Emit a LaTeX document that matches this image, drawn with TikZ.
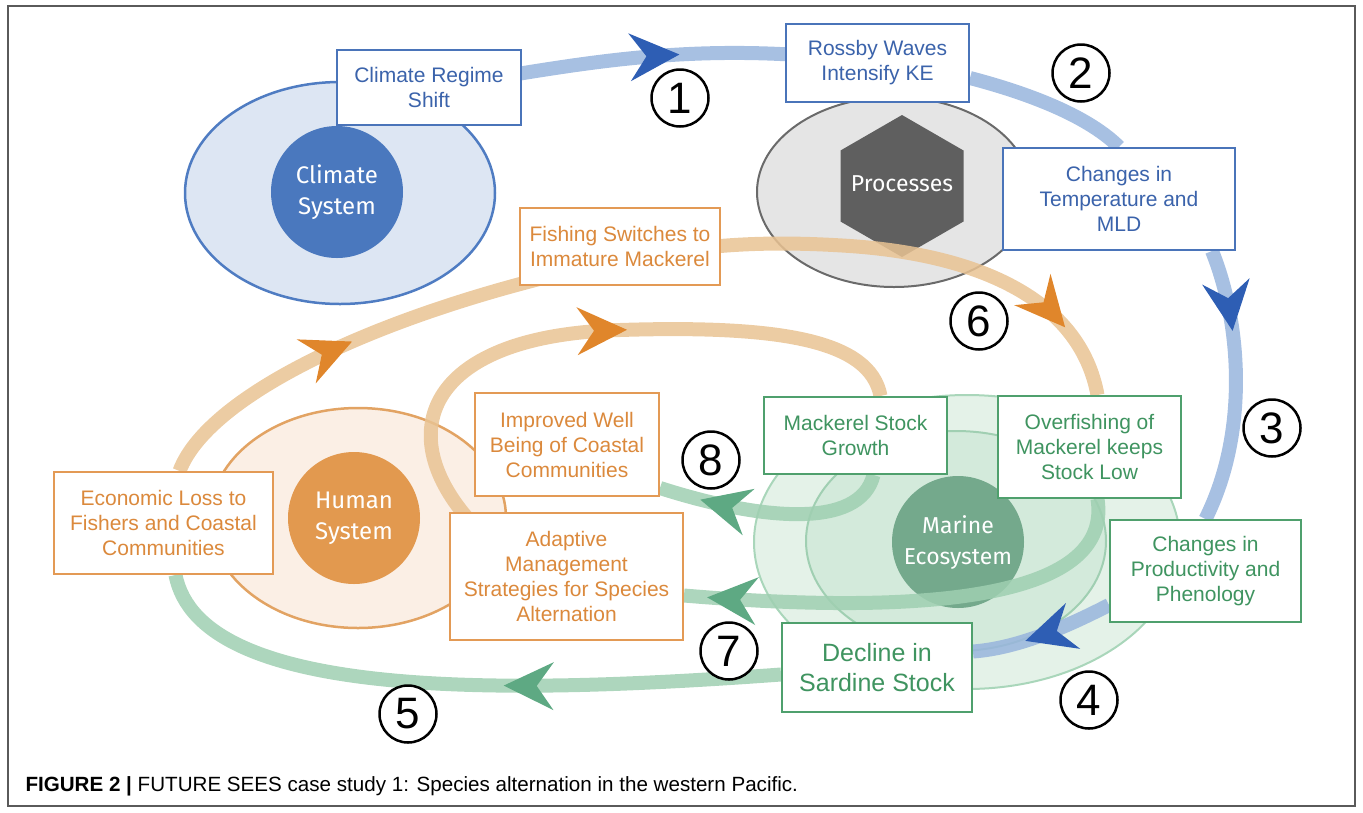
\documentclass[tikz,border=0pt]{standalone}
\usepackage{fontspec}
\setmainfont{Liberation Sans}
\newfontfamily\sysfont{Fira Sans}
\usetikzlibrary{calc}
\usetikzlibrary{decorations.markings}

\definecolor{tblue}{HTML}{3B63AB}
\definecolor{bblue}{HTML}{4A74B9}
\definecolor{lblue}{HTML}{98B5DD}
\definecolor{ablue}{HTML}{2E5EB4}
\definecolor{torange}{HTML}{DB893C}
\definecolor{borange}{HTML}{E39A55}
\definecolor{lorange}{HTML}{E9C393}
\definecolor{aorange}{HTML}{E0862B}
\definecolor{tgreen}{HTML}{3F9460}
\definecolor{bgreen}{HTML}{4FA06D}
\definecolor{lgreen}{HTML}{9FCFB1}
\definecolor{agreen}{HTML}{5EA983}
\definecolor{framegray}{HTML}{5A5A5A}
\definecolor{hexgray}{HTML}{5F5F5F}

\pgfdeclarelayer{back}
\pgfdeclarelayer{mid}
\pgfsetlayers{back,mid,main}

\tikzset{
	box/.style={draw,fill=white,line width=2pt,inner sep=0pt,align=center,
		font=\fontsize{21}{25}\selectfont},
	bluebox/.style={box,draw=bblue,text=tblue},
	orangebox/.style={box,draw=borange,text=torange},
	greenbox/.style={box,draw=bgreen,text=tgreen},
	band/.style={line width=14pt,draw opacity=0.85},
	tipat/.style 2 args={postaction={decorate,decoration={markings,
		mark=at position #1 with {\fill[#2] (0,0)--(-50,-24)--(-33,0)--(-50,24)--cycle;}}}},
	num/.style={circle,draw=black,fill=white,line width=2.5pt,minimum size=57pt,
		inner sep=0pt,font=\fontsize{44}{44}\selectfont},
	sysdisc/.style={circle,inner sep=0pt,minimum size=132pt,text=white,align=center,
		font=\sysfont\fontsize{24}{31}\selectfont},
}

\begin{document}
\begin{tikzpicture}[x=1pt,y=-1pt]
	\useasboundingbox (0,0) rectangle (1363,812);
	\draw[framegray,line width=1.5pt] (8,6) rectangle (1355,806);

	% boxes
	\node[bluebox,minimum width=184pt,minimum height=75pt] (climshift) at (429,87.5) {Climate Regime\\Shift};
	\node[bluebox,minimum width=183pt,minimum height=78pt] (rossby) at (877.5,63) {Rossby Waves\\Intensify KE};
	\node[bluebox,minimum width=232pt,minimum height=102pt] (tempmld) at (1119,199) {Changes in\\Temperature and\\MLD};
	\node[orangebox,minimum width=200pt,minimum height=77pt] (fishing) at (620,246.5) {Fishing Switches to\\Immature Mackerel};
	\node[orangebox,minimum width=219pt,minimum height=102pt] (econ) at (163.5,523) {Economic Loss to\\Fishers and Coastal\\Communities};
	\node[orangebox,minimum width=184pt,minimum height=103pt] (improved) at (567,444.5) {Improved Well\\Being of Coastal\\Communities};
	\node[orangebox,minimum width=233pt,minimum height=127pt] (adapt) at (566.5,576.5) {Adaptive\\Management\\Strategies for Species\\Alternation};
	\node[greenbox,minimum width=183pt,minimum height=77pt] (mack) at (855.5,435.5) {Mackerel Stock\\Growth};
	\node[greenbox,minimum width=183pt,minimum height=102pt] (overfish) at (1089.5,447) {Overfishing of\\Mackerel keeps\\Stock Low};
	\node[greenbox,minimum width=191pt,minimum height=102pt] (prodphen) at (1205.5,571) {Changes in\\Productivity and\\Phenology};
	\node[greenbox,minimum width=190pt,minimum height=89pt,font=\fontsize{25}{30}\selectfont] (sardine) at (877,667.5) {Decline in\\Sardine Stock};

	% step numbers
	\node[num] (n1) at (680,98) {1};
	\node[num] (n2) at (1081,73) {2};
	\node[num] (n3) at (1272,428) {3};
	\node[num] (n4) at (1089,700) {4};
	\node[num] (n5) at (408,714) {5};
	\node[num] (n6) at (979,321) {6};
	\node[num] (n7) at (729,651) {7};
	\node[num] (n8) at (711,460) {8};

	\node[anchor=base west,font=\fontsize{20.6}{24}\selectfont] (caption) at (22,791)
		{\textbf{FIGURE 2 |} FUTURE SEES case study 1: Species alternation in the western Pacific.};

	\begin{pgfonlayer}{back}
		% systems
		\draw[draw={rgb,255:red,79;green,124;blue,194},fill={rgb,255:red,221;green,230;blue,243},line width=2.5pt]
			(340,193) ellipse [x radius=155,y radius=111];
		\node[sysdisc,fill={rgb,255:red,74;green,120;blue,190}] (climsys) at (337,192) {Climate\\System};
		\draw[draw={rgb,255:red,106;green,106;blue,106},fill={rgb,255:red,229;green,229;blue,229},line width=2pt]
			(894,192) ellipse [x radius=137,y radius=95];
		\fill[hexgray] (902,115) -- (963.5,150.5) -- (963.5,221.5) -- (902,257) -- (840.5,221.5) -- (840.5,150.5) -- cycle;
		\node[text=white,inner sep=0pt,font=\sysfont\fontsize{23}{28}\selectfont] (proc) at (902,184) {Processes};
		\draw[draw={rgb,255:red,226;green,163;blue,99},fill={rgb,255:red,251;green,239;blue,229},line width=2.5pt]
			(358,518) ellipse [x radius=148,y radius=110];
		\node[sysdisc,fill={rgb,255:red,226;green,153;blue,79}] (humsys) at (354,518) {Human\\System};
		\draw[draw={rgb,255:red,169;green,214;blue,186},fill={rgb,255:red,228;green,242;blue,232},line width=2pt]
			(967,542) ellipse [x radius=213,y radius=147];
		\draw[draw={rgb,255:red,160;green,207;blue,178},fill={rgb,255:red,211;green,234;blue,219},line width=2pt]
			(956,541) ellipse [x radius=150,y radius=110];
		\node[sysdisc,fill={rgb,255:red,116;green,169;blue,140},font=\sysfont\fontsize{23}{31}\selectfont] (marsys) at (958,542) {Marine\\Ecosystem};
	\end{pgfonlayer}

	\begin{pgfonlayer}{mid}
		% blue loop 1-4
		\draw[band,lblue,tipat={0.56}{ablue}] (climshift.center) .. controls (560,70) and (680,36) .. (rossby.center);
		\draw[band,lblue] ($(rossby.east)+(0,15)$) .. controls (1035,95) and (1090,118) .. (tempmld.north);
		\draw[band,lblue,tipat={0.3}{ablue}] ($(tempmld.south)+(93,0)$) .. controls (1240,320) and (1250,430) .. (prodphen.north);
		\draw[band,lblue,tipat={0.63}{ablue}] ($(prodphen.west)+(0,34)$) .. controls (1070,625) and (1020,648) .. ($(sardine.east)+(0,-16)$);
		% orange loops
		\draw[band,lorange,tipat={0.44}{aorange}] ($(econ.north)+(16,0)$) .. controls (210,390) and (400,305) .. ($(fishing.center)+(0,14)$);
		\draw[band,lorange,tipat={0.86}{aorange}] ($(fishing.center)+(0,14)$) .. controls (700,245) and (760,240) .. (850,246)
			.. controls (980,255) and (1080,300) .. ($(overfish.north)+(8,0)$);
		\draw[band,lorange,tipat={0.55}{aorange}] ($(adapt.north west)+(20,8)$) .. controls (390,430) and (430,335) .. (620,330)
			.. controls (780,325) and (870,340) .. ($(mack.north)+(25,0)$);
		% green loops
		\draw[band,lgreen,tipat={0.43}{agreen}] ($(sardine.west)+(0,7)$) .. controls (500,695) and (200,700) .. ($(econ.south)+(12,0)$);
		\draw[band,lgreen,tipat={0.95}{agreen}] ($(overfish.south)+(8,0)$) .. controls (1115,610) and (880,612) .. ($(adapt.east)+(0,19)$);
		\draw[band,lgreen,tipat={0.82}{agreen}] ($(mack.south)+(18,0)$) .. controls (860,530) and (760,520) .. ($(improved.south east)+(0,-9)$);
	\end{pgfonlayer}
\end{tikzpicture}
\end{document}
